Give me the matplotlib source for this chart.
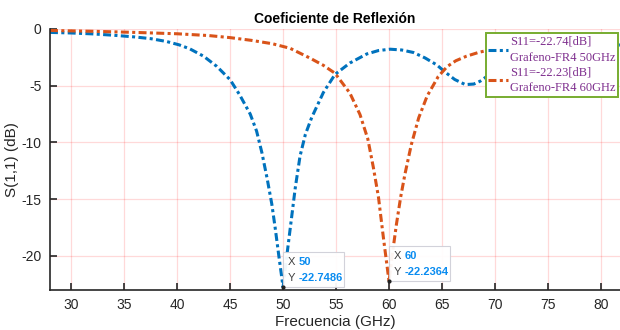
import matplotlib
matplotlib.use("Agg")
import matplotlib.pyplot as plt
from matplotlib.patches import Rectangle
from matplotlib.transforms import ScaledTranslation

# S11 curve, Grafeno-FR4 50 GHz
freq_50 = [28, 30, 32, 34, 36, 37.5, 39, 40.2, 41.2, 42.5, 43.75, 45, 45.9,
           46.9, 47.5, 48, 48.5, 48.93, 49.25, 49.6, 50, 50.35, 50.75, 51.15,
           51.6, 52.1, 52.7, 53.8, 54.9, 56.3, 57.9, 59, 60.1, 61.2, 62.3,
           63.4, 64.5, 65.3, 66.2, 67.2, 68, 68.6, 69.5, 70.5, 72, 75, 78, 82]
s11_50 = [-0.3, -0.35, -0.43, -0.55, -0.7, -0.85, -1.1, -1.4, -1.75, -2.4,
          -3.3, -4.47, -5.8, -7.5, -9.0, -10.9, -13.2, -15.4, -17.5, -20.0,
          -22.7486, -20.0, -17.0, -14.0, -11.2, -9.3, -7.8, -5.6, -4.0, -3.0,
          -2.2, -1.9, -1.78, -1.85, -2.07, -2.55, -3.16, -3.8, -4.45, -4.9,
          -4.85, -4.6, -4.0, -3.4, -2.7, -2.0, -1.6, -1.4]

# S11 curve, Grafeno-FR4 60 GHz
freq_60 = [28, 32, 36, 40, 43, 45, 47, 49, 50.66, 52.55, 53.8, 54.9, 56.3,
           57.26, 58, 58.52, 59, 59.47, 60, 60.35, 60.7, 61.1, 61.5, 62.1,
           62.8, 63.6, 64.65, 65.5, 66.3, 67.3, 68.5, 69.5, 71, 74, 78, 82]
s11_60 = [-0.13, -0.2, -0.3, -0.42, -0.58, -0.76, -1.0, -1.3, -1.7, -2.57,
          -3.2, -3.9, -5.64, -7.54, -9.7, -12.2, -14.8, -18.4, -22.2364,
          -19.6, -17.2, -14.8, -12.8, -10.2, -7.83, -5.9, -4.18, -3.3, -2.8,
          -2.4, -2.05, -1.84, -1.6, -1.4, -1.3, -1.25]

labels = ["S11=-22.74[dB]\nGrafeno-FR4 50GHz", "S11=-22.23[dB]\nGrafeno-FR4 60GHz"]
tips = [(50, -22.7486), (60, -22.2364)]
xticks = [30, 35, 40, 45, 50, 55, 60, 65, 70, 75, 80]
yticks = [0, -5, -10, -15, -20]

plt.rcParams["font.family"] = ["Liberation Sans", "DejaVu Sans"]
plt.rcParams["axes.unicode_minus"] = False

fig = plt.figure(figsize=(6.2, 3.3), dpi=100)
ax = fig.add_axes([50 / 620, 1 - 290 / 330, 570 / 620, 261 / 330])

dash = (2.6, 1.1, 1.0, 1.1)
ax.plot(freq_50, s11_50, color="#0072BD", lw=2.2, dashes=dash, label=labels[0])
ax.plot(freq_60, s11_60, color="#D95319", lw=2.2, dashes=dash, label=labels[1])

ax.set_xlim(28, 81.8)
ax.set_ylim(-23, 0)
ax.set_xticks(xticks)
ax.set_yticks(yticks)
ax.grid(True, color="#FF0000", alpha=0.15, lw=0.9)
ax.tick_params(direction="in", length=5, width=1.2, colors="#262626",
               labelsize=10, pad=6)
for s in ["top", "right"]:
    ax.spines[s].set_visible(False)
for s in ["left", "bottom"]:
    ax.spines[s].set_color("#262626")
    ax.spines[s].set_linewidth(1.2)

ax.set_title("Coeficiente de Reflexión", fontsize=10, fontweight="bold", pad=4)
ax.set_xlabel("Frecuencia (GHz)", fontsize=11, color="#262626", labelpad=2)
ax.set_ylabel("S(1,1) (dB)", fontsize=11, color="#262626", labelpad=2)

leg = ax.legend(loc="upper right", bbox_to_anchor=(618 / 620, 1 - 33 / 330),
                bbox_transform=fig.transFigure, borderaxespad=0,
                prop={"family": "Liberation Serif", "size": 9},
                labelcolor="#7E2F8E", handlelength=1.55, handletextpad=0.2,
                labelspacing=0.22, borderpad=0.2, fancybox=False, framealpha=1)
for t in leg.get_texts():
    t.set_linespacing(1.45)
leg.get_frame().set_edgecolor("#77AC30")
leg.get_frame().set_linewidth(1.4)

# data tips
for tx, ty in tips:
    tr = fig.dpi_scale_trans + ScaledTranslation(tx, ty, ax.transData)
    ax.add_patch(Rectangle((0.0, 0.0), 0.61, 0.35, transform=tr,
                           facecolor="white", edgecolor="#D0D0D8", lw=0.8,
                           alpha=0.95, zorder=5, clip_on=False))
    ax.plot([tx], [ty], "o", color="#222222", ms=2, zorder=6, clip_on=False)
    ax.text(0.05, 0.25, "X", transform=tr, fontsize=8, color="#404040",
            va="center", zorder=7)
    ax.text(0.16, 0.25, f"{tx:g}", transform=tr, fontsize=8, color="#0A8CF0",
            fontweight="bold", va="center", zorder=7)
    ax.text(0.05, 0.09, "Y", transform=tr, fontsize=8, color="#404040",
            va="center", zorder=7)
    ax.text(0.16, 0.09, f"{ty:g}", transform=tr, fontsize=8, color="#0A8CF0",
            fontweight="bold", va="center", zorder=7)

fig.savefig("out.png", dpi=100)
